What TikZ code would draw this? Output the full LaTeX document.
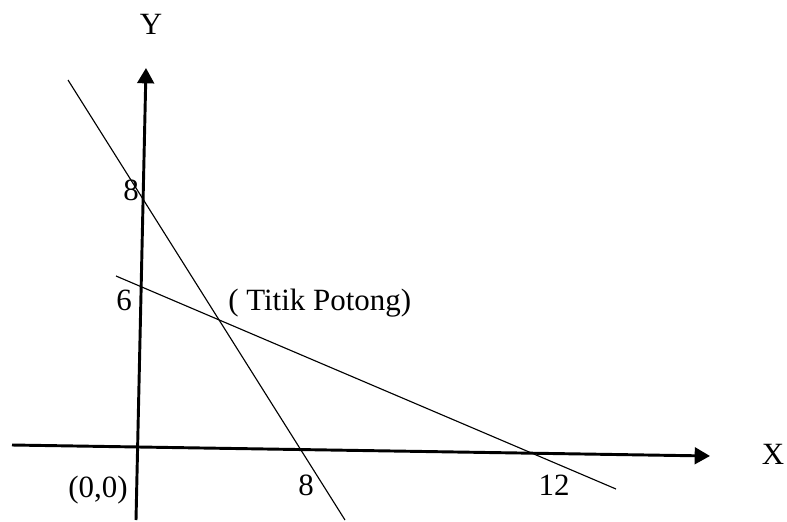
\documentclass[tikz,border=0pt]{standalone}
\usepackage{fontspec}
\setmainfont{Liberation Serif}
\usetikzlibrary{arrows.meta}
\begin{document}
\begin{tikzpicture}[x=0.75pt, y=-0.75pt,
		sumbu/.style={line width=2.2pt, -{Triangle[length=11.5pt, width=12.5pt]}},
		garis/.style={line width=0.85pt},
		lbl/.style={font=\fontsize{23.2}{28}\selectfont, inner sep=0pt, anchor=base}]
			\useasboundingbox (0,0) rectangle (787,521);

			% Define end points of axes and lines
			\coordinate (Ybawah) at (136,520);
			\coordinate (Yatas) at (146,68);
			\coordinate (Xkiri) at (12,445);
			\coordinate (Xkanan) at (710,456);
			\coordinate (Aatas) at (68,80);
			\coordinate (Abawah) at (345,520);
			\coordinate (Bkiri) at (116,276);
			\coordinate (Bkanan) at (616,489);

			% Draw axes
			\draw[sumbu] (Ybawah) -- (Yatas);
			\draw[sumbu] (Xkiri) -- (Xkanan);

			% Draw lines
			\draw[garis] (Aatas) -- (Abawah);
			\draw[garis] (Bkiri) -- (Bkanan);

			% Labels
			\node[lbl] (Y) at (151,34) {Y};
			\node[lbl] (X) at (773,464) {X};
			\node[lbl] (delapanY) at (131,200) {8};
			\node[lbl] (enam) at (124,310) {6};
			\node[lbl, anchor=base west] (titik) at (228,310) {( Titik Potong)};
			\node[lbl] (O) at (98,497) {(0,0)};
			\node[lbl] (delapanX) at (306,495) {8};
			\node[lbl] (duabelas) at (554,495) {12};

		\end{tikzpicture}
\end{document}
